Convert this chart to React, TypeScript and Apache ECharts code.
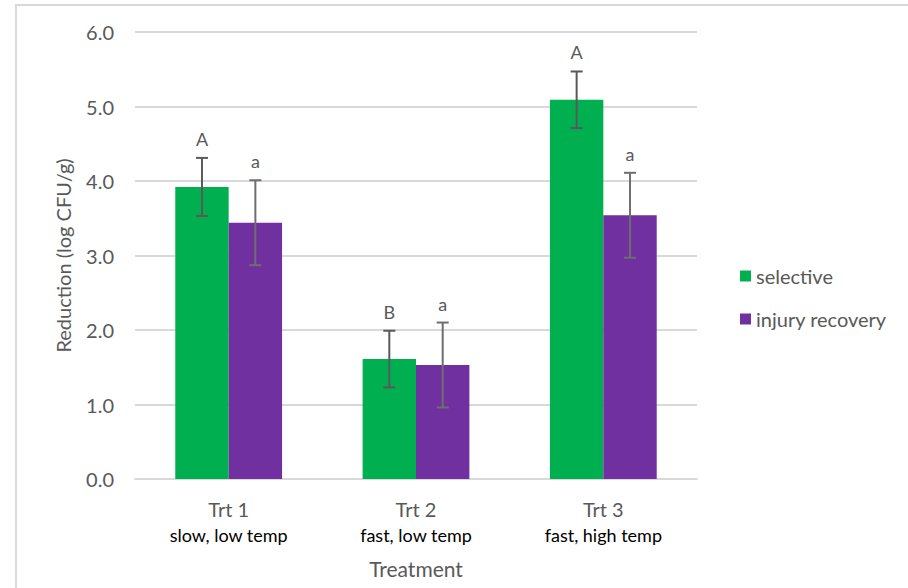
import React, { useEffect, useRef } from "react";
import * as echarts from "echarts";

const categories = ["Trt 1", "Trt 2", "Trt 3"];
const subLabels = ["slow, low temp", "fast, low temp", "fast, high temp"];
const seriesNames = ["selective", "injury recovery"];
const selective = [3.92, 1.61, 5.09];
const injuryRecovery = [3.44, 1.53, 3.54];
const selectiveErr = [0.39, 0.38, 0.38];
const injuryErr = [0.57, 0.57, 0.57];
const selectiveLetters = ["A", "B", "A"];
const injuryLetters = ["a", "a", "a"];
const yTicks = [0, 1, 2, 3, 4, 5, 6];

const FONT = "Lato, 'Open Sans', sans-serif";
const GREEN = "#00B050";
const PURPLE = "#7030A0";
const CAT_GAP = 0.43;

function errorSeries(values: number[], errs: number[], letters: string[], side: number, color: string) {
  const data = values.map((v, i) => [i, v, errs[i]]);
  return {
    type: "custom",
    silent: true,
    z: 10,
    data,
    encode: { x: 0, y: 1 },
    renderItem: (params: any, api: any) => {
      const idx = api.value(0);
      const val = api.value(1);
      const err = api.value(2);
      const letter = letters[params.dataIndex];
      const catW = api.size([1, 0])[0];
      const barW = (catW * (1 - CAT_GAP)) / 2;
      const center = api.coord([idx, val]);
      const x = center[0] + (side * barW) / 2;
      const top = api.coord([idx, val + err])[1];
      const bot = api.coord([idx, val - err])[1];
      const cap = 6;
      const ls = { stroke: color, lineWidth: 2 };
      return {
        type: "group",
        children: [
          { type: "line", shape: { x1: x, y1: top, x2: x, y2: bot }, style: ls },
          { type: "line", shape: { x1: x - cap, y1: top, x2: x + cap, y2: top }, style: ls },
          { type: "line", shape: { x1: x - cap, y1: bot, x2: x + cap, y2: bot }, style: ls },
          {
            type: "text",
            x,
            y: top - 10,
            style: {
              text: letter,
              fill: "#595959",
              font: `18px ${FONT}`,
              textAlign: "center",
              textVerticalAlign: "bottom",
            },
          },
        ],
      };
    },
  };
}

export default function App() {
  const ref = useRef<HTMLDivElement>(null);

  useEffect(() => {
    if (!ref.current) return;
    const chart = echarts.init(ref.current, undefined, { renderer: "svg" });
    chart.setOption({
      animation: false,
      backgroundColor: "#ffffff",
      textStyle: { fontFamily: FONT },
      graphic: [
        {
          type: "rect",
          shape: { x: 16, y: 5, width: 1000, height: 700 },
          style: { fill: "none", stroke: "#d9d9d9", lineWidth: 2 },
          silent: true,
        },
      ],
      grid: { left: 135, right: 211, top: 32, bottom: 109, outerBoundsMode: "none" },
      legend: {
        orient: "vertical",
        left: 735,
        top: 261,
        itemWidth: 11,
        itemHeight: 11,
        itemGap: 23,
        icon: "rect",
        data: seriesNames,
        textStyle: { fontSize: 20, color: "#595959", fontFamily: FONT },
      },
      xAxis: {
        type: "category",
        data: categories,
        name: "Treatment",
        nameLocation: "middle",
        nameGap: 79,
        nameTextStyle: { fontSize: 21, color: "#595959", fontFamily: FONT },
        axisLine: { lineStyle: { color: "#d9d9d9", width: 2 } },
        axisTick: { show: false },
        axisLabel: {
          margin: 18,
          formatter: (v: string) => {
            const i = categories.indexOf(v);
            return `{main|${v}}\n{sub|${subLabels[i]}}`;
          },
          rich: {
            main: { fontSize: 20, color: "#595959", fontFamily: FONT, lineHeight: 24 },
            sub: { fontSize: 18, color: "#000000", fontFamily: FONT, lineHeight: 28 },
          },
        },
      },
      yAxis: {
        type: "value",
        min: yTicks[0],
        max: yTicks[yTicks.length - 1],
        interval: 1,
        name: "Reduction (log CFU/g)",
        nameLocation: "middle",
        nameGap: 62,
        nameTextStyle: { fontSize: 20, color: "#595959", fontFamily: FONT },
        axisLine: { show: false },
        axisTick: { show: false },
        axisLabel: {
          margin: 21,
          fontSize: 20,
          color: "#595959",
          fontFamily: FONT,
          formatter: (v: number) => v.toFixed(1),
        },
        splitLine: { lineStyle: { color: "#d9d9d9", width: 2 } },
      },
      series: [
        {
          name: seriesNames[0],
          type: "bar",
          data: selective,
          barGap: "0%",
          barCategoryGap: `${CAT_GAP * 100}%`,
          itemStyle: { color: GREEN },
        },
        {
          name: seriesNames[1],
          type: "bar",
          data: injuryRecovery,
          barGap: "0%",
          barCategoryGap: `${CAT_GAP * 100}%`,
          itemStyle: { color: PURPLE },
        },
        errorSeries(selective, selectiveErr, selectiveLetters, -1, "#595959"),
        errorSeries(injuryRecovery, injuryErr, injuryLetters, 1, "#6e6e6e"),
      ],
    });
    return () => chart.dispose();
  }, []);

  return (
    <div
      ref={ref}
      style={{ position: "fixed", left: 0, top: 0, width: 908, height: 588 }}
    />
  );
}
